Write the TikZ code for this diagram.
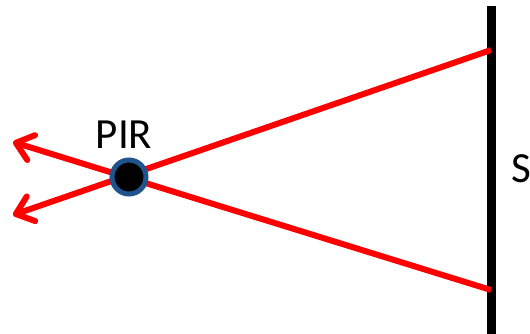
\documentclass[tikz,border=0pt]{standalone}
\usepackage{fontspec}
\setmainfont{Carlito}
\usetikzlibrary{arrows.meta}
\definecolor{rayred}{RGB}{255,0,0}
\definecolor{pirblue}{RGB}{31,84,140}
\begin{document}
\begin{tikzpicture}[x=1pt,y=1pt,
  ray/.style={draw=rayred,line width=6pt},
  rayarrow/.style={ray,-{Straight Barb[length=16pt,width=26pt,line width=6pt,round]}},
  wall/.style={draw=black,line width=8.5pt},
  sensor/.style={circle,fill=black,draw=pirblue,line width=5pt,minimum size=34pt,inner sep=0pt},
  lbl/.style={font=\fontsize{43}{43}\selectfont,inner sep=0pt}]
\useasboundingbox[fill=white] (0,0) rectangle (530,334);
\coordinate (wtop) at (491.5,328);
\coordinate (wbot) at (491.5,-5);
\coordinate (hitA) at (491,284);
\coordinate (hitB) at (491,44);
\coordinate (tipA) at (13,119);
\coordinate (tipB) at (13,192);
\draw[wall] (wtop) -- (wbot);
\draw[rayarrow] (hitA) -- (tipA);
\draw[rayarrow] (hitB) -- (tipB);
\node[sensor] (pir) at (129,157) {};
\node[lbl] (pirlabel) at (124,199) {PIR};
\node[lbl,anchor=west] (slabel) at (511,165) {S};
\end{tikzpicture}
\end{document}
